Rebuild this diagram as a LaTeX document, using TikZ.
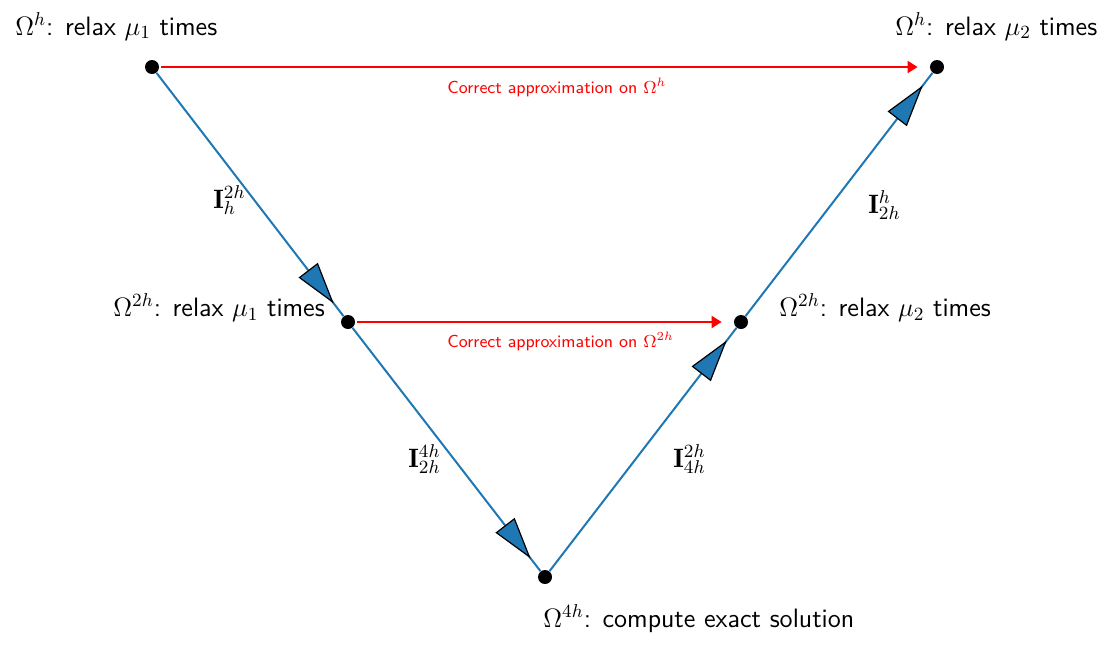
\RequirePackage{fix-cm}
\documentclass[tikz,border=0pt]{standalone}
\usepackage{fontspec}
\usetikzlibrary{arrows.meta,decorations.markings}
\definecolor{mplblue}{HTML}{1F77B4}
\tikzset{
  dot/.style={circle, fill=black, inner sep=0pt, minimum size=7pt},
  lbl/.style={font=\fontsize{13.3}{16}\selectfont\sffamily, inner sep=0pt, anchor=base west},
  note/.style={font=\fontsize{8.7}{10}\selectfont\sffamily, text=red, inner sep=0pt, anchor=base west},
  correct/.style={red, line width=1pt, -{Triangle[length=5pt,width=6pt]}, shorten >=6pt, shorten <=1pt},
  transfer/.style={mplblue, line width=1pt, postaction={decorate},
    decoration={markings, mark=at position 0.948 with
      {\arrow{Triangle[length=21pt,width=12pt,fill=mplblue,color=black,line width=0.6pt]}}}},
}
\begin{document}
\begin{tikzpicture}[x=0.5pt, y=-0.5pt]
    \useasboundingbox (0,0) rectangle (1113,649);
    % Grid points
    \node[dot] (h1) at (152,67) {};
    \node[dot] (m1) at (348,322) {};
    \node[dot] (c) at (545,577) {};
    \node[dot] (m2) at (741,322) {};
    \node[dot] (h2) at (937,67) {};

    % Level labels
    \node[lbl] (lh1) at (15,35) {$\Omega^h$: relax $\mu_1$ times};
    \node[lbl] (lm1) at (113,316) {$\Omega^{2h}$: relax $\mu_1$ times};
    \node[lbl] (lc) at (543,627) {$\Omega^{4h}$: compute exact solution};
    \node[lbl] (lm2) at (779,316) {$\Omega^{2h}$: relax $\mu_2$ times};
    \node[lbl] (lh2) at (895,35) {$\Omega^h$: relax $\mu_2$ times};

    % Restriction and prolongation
    \draw[transfer] (h1) -- (m1);
    \draw[transfer] (m1) -- (c);
    \draw[transfer] (c) -- (m2);
    \draw[transfer] (m2) -- (h2);
    \node[lbl] (r1) at (213,208) {$\mathbf{I}_h^{2h}$};
    \node[lbl] (r2) at (408,467) {$\mathbf{I}_{2h}^{4h}$};
    \node[lbl] (p1) at (673,467) {$\mathbf{I}_{4h}^{2h}$};
    \node[lbl] (p2) at (868,213) {$\mathbf{I}_{2h}^{h}$};

    % Coarse grid corrections
    \draw[correct] (h1) -- (h2);
    \draw[correct] (m1) -- (m2);
    \node[note] (n1) at (447,93) {Correct approximation on $\Omega^h$};
    \node[note] (n2) at (447,347) {Correct approximation on $\Omega^{2h}$};
\end{tikzpicture}
\end{document}
